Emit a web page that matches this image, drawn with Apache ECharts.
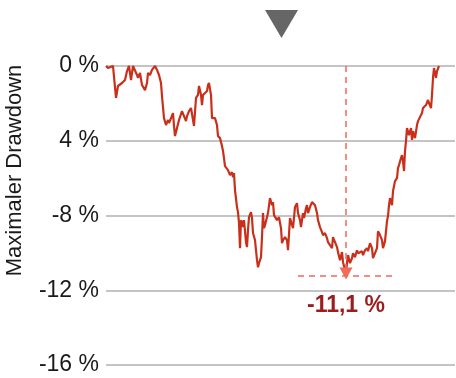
<!DOCTYPE html>
<html lang="de">
<head>
    <meta charset="utf-8">
    <title>Maximaler Drawdown</title>
    <script src="https://cdn.jsdelivr.net/npm/echarts@6/dist/echarts.min.js"></script>
    <style>
        html, body { margin: 0; padding: 0; background: #fff; }
        #main { width: 456px; height: 378px; }
    </style>
</head>
<body>
<div id="main"></div>
<script type="text/javascript">
    // Handelstage seit Beginn des Zeitraums
    var days = [0,2,4,7,10,12,16,19,21,23,25,27,29,31,32,34,36,37,39,41,42,44,46,47,49,51,53,55,56,57,
        58,60,62,63,65,67,68,69,71,73,76,78,80,81,83,85,87,88,90,92,93,95,96,97,99,101,102,103,105,106,
        107,109,110,111,112,114,116,117,118,119,121,122,124,126,127,128,129,131,132,133,134,135,136,137,138,140,141,142,143,145,
        146,147,149,150,151,152,153,155,156,157,158,159,161,162,164,166,167,168,170,171,173,175,176,177,179,181,182,184,186,187,
        189,191,192,194,195,197,198,200,201,202,204,206,207,209,211,212,214,216,217,219,221,222,224,226,227,229,231,232,234,236,
        237,239,240,241,242,244,246,247,249,251,252,254,256,257,259,261,262,264,266,267,269,271,272,274,276,277,279,281,282,283,
        284,286,287,289,291,292,293,295,296,297,298,299,300,301,303,305,306,307,309,311,312,314,316,317,320,322,323,325,326,327,
        328,329,330,331,333];
    // Drawdown in %
    var drawdown = [0,-0.11,-0.05,0,-1.71,-1.07,-0.91,-0.75,-0.27,0,-0.75,0,0,-0.48,-0.64,-0.37,-1.02,-1.07,-1.29,-0.91,-0.37,-0.48,-0.21,-0.27,0,-0.21,-0.48,-0.91,-1.61,-1.71,
        -2.79,-3.16,-2.89,-3.05,-2.79,-2.52,-3.21,-3.75,-3.32,-2.89,-2.41,-2.68,-2.95,-2.68,-2.41,-2.25,-2.25,-3.21,-1.71,-1.55,-1.07,-1.55,-2.09,-1.55,-1.61,-1.34,-1.02,-0.91,-1.55,-2.79,
        -2.89,-2.79,-2.89,-3.16,-3.75,-3.86,-4.28,-4.55,-4.93,-5.36,-5.30,-5.57,-5.84,-5.68,-5.95,-5.73,-6.64,-7.55,-7.82,-8.41,-9.75,-8.25,-8.36,-8.62,-8.25,-9.43,-9.69,-8.78,-8.09,-7.82,
        -8.14,-8.94,-9.32,-9.86,-10.39,-10.77,-10.55,-10.23,-9.16,-7.87,-8.68,-8.52,-8.62,-7.87,-7.07,-7.45,-7.28,-7.98,-7.98,-8.25,-8.09,-8.68,-9.48,-9.32,-9.16,-9.32,-9.86,-8.14,-8.14,-8.68,
        -7.55,-7.34,-7.87,-8.25,-8.62,-7.87,-8.14,-7.61,-7.45,-7.87,-7.55,-7.28,-7.28,-7.45,-7.87,-8.25,-8.62,-8.89,-9.05,-8.94,-9.21,-9.43,-9.43,-9.75,-9.16,-9.21,-9.69,-9.96,-10.39,-9.96,
        -10.50,-10.90,-11.10,-10.55,-10.12,-10.55,-10.28,-10.02,-10.23,-9.86,-10.02,-9.96,-9.91,-10.12,-9.86,-9.75,-9.91,-9.48,-9.75,-10.28,-10.18,-9.75,-8.84,-9.05,-9.32,-9.75,-9.37,-8.30,-8.03,-7.45,
        -7.07,-7.45,-6.70,-6.16,-6.00,-5.46,-5.30,-4.93,-4.77,-5.09,-5.62,-4.55,-4.02,-3.32,-3.70,-3.32,-3.96,-3.48,-3.86,-3.16,-2.95,-2.95,-2.52,-2.25,-2.09,-1.82,-1.98,-2.25,-1.55,-0.64,
        -0.11,-0.37,-0.64,-0.27,0];

    // Achsenbeschriftung (wie im Original)
    var tickValues = [0, -4, -8, -12, -16];
    var tickLabels = ['0 %', '4 %', '-8 %', '-12 %', '-16 %'];

    // Tiefpunkt
    var minDay = 240;
    var minValue = -11.1;
    var minLabel = '-11,1 %';
    var floorFrom = 192, floorTo = 290, floorValue = -11.25;

    var seriesData = [];
    for (var i = 0; i < days.length; i++) {
        seriesData.push([days[i], drawdown[i]]);
    }

    var font = '"Liberation Sans", Arial, Helvetica, sans-serif';
    var myChart = echarts.init(document.getElementById('main'), null, {renderer: 'canvas'});

    var option = {
        animation: false,
        backgroundColor: '#fff',
        grid: {left: 106, right: 1, top: 66, bottom: 13, containLabel: false, outerBoundsMode: 'none'},
        xAxis: {
            type: 'value',
            min: 0,
            max: 349,
            show: false
        },
        yAxis: {
            type: 'value',
            min: -16,
            max: 0,
            interval: 4,
            name: 'Maximaler Drawdown',
            nameLocation: 'middle',
            nameGap: 80,
            nameTextStyle: {
                fontFamily: font,
                fontSize: 22,
                color: '#1a1a1a',
                padding: [0, 0, 0, 90]
            },
            axisLine: {show: false},
            axisTick: {show: false},
            axisLabel: {
                margin: 7,
                fontFamily: font,
                fontSize: 23,
                color: '#1a1a1a',
                formatter: function (v) {
                    var idx = tickValues.indexOf(v);
                    return idx >= 0 ? tickLabels[idx] : '';
                }
            },
            splitLine: {lineStyle: {color: '#b0b0b0', width: 1.5}}
        },
        graphic: [{
            // Dreieck oben
            type: 'polygon',
            shape: {points: [[265, 10], [298, 10], [281.5, 38]]},
            style: {fill: '#666666'}
        }],
        series: [{
            type: 'line',
            data: seriesData,
            showSymbol: false,
            clip: false,
            lineStyle: {color: '#c9301c', width: 2.2},
            markLine: {
                silent: true,
                animation: false,
                symbol: ['none', 'triangle'],
                symbolSize: [13, 12],
                label: {show: false},
                lineStyle: {color: '#f26a5a', type: [6, 5], width: 1.5},
                emphasis: {disabled: true},
                data: [
                    [{coord: [minDay, 0]}, {coord: [minDay, minValue], itemStyle: {color: '#f26a5a'}}],
                    [{coord: [floorFrom, floorValue], symbol: 'none'}, {coord: [floorTo, floorValue], symbol: 'none'}]
                ]
            },
            markPoint: {
                silent: true,
                symbol: 'circle',
                symbolSize: 0,
                data: [{
                    coord: [minDay, minValue],
                    label: {
                        show: true,
                        formatter: minLabel,
                        offset: [0, 32],
                        fontFamily: font,
                        fontSize: 23,
                        fontWeight: 'bold',
                        color: '#9b1d1d'
                    }
                }]
            }
        }]
    };
    myChart.setOption(option);
</script>
</body>
</html>
